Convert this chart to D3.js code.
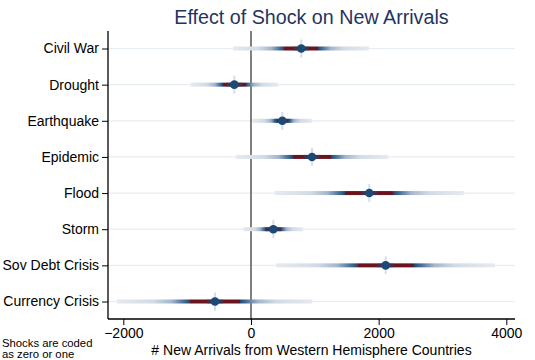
<!DOCTYPE html>
<html>
<head>
<meta charset="utf-8">
<script src="https://cdn.jsdelivr.net/npm/d3@7"></script>
<style>
  html, body { margin: 0; padding: 0; background: #fff; }
  svg { display: block; font-family: "Liberation Sans", Arial, Helvetica, sans-serif; }
</style>
</head>
<body>
<svg id="chart" width="535" height="360"></svg>
<script>
// ---- data ----
const categories = ["Civil War", "Drought", "Earthquake", "Epidemic", "Flood", "Storm", "Sov Debt Crisis", "Currency Crisis"];
const estimates  = [788, -261, 491, 956, 1853, 350, 2110, -564];
const outerLow   = [-282, -945, 21, -240, 376, -120, 397, -2104];
const outerHigh  = [1849, 428, 961, 2151, 3342, 819, 3823, 961];
const innerLow   = [517, -443, 400, 653, 1477, 230, 1671, -956];
const innerHigh  = [1050, -78, 585, 1253, 2229, 470, 2554, -172];
const xTicks     = [-2000, 0, 2000, 4000];

(function () {
const svg = d3.select("#chart");
const pL = 108, pR = 515, pT = 31, pB = 319;

const x = d3.scaleLinear().domain([-2240, 4136]).range([pL, pR]);
const y = d3.scalePoint().domain(categories).range([48.5, 301.5]);

const defs = svg.append("defs");

// gridlines
svg.append("g").selectAll("line").data(categories).join("line")
  .attr("x1", pL).attr("x2", pR)
  .attr("y1", d => y(d)).attr("y2", d => y(d))
  .attr("stroke", "#e6edf2").attr("stroke-width", 1.2);

// zero line
svg.append("line")
  .attr("x1", x(0)).attr("x2", x(0)).attr("y1", pT).attr("y2", pB)
  .attr("stroke", "#555").attr("stroke-width", 1.5);

// gradient per row
categories.forEach((c, i) => {
  const lo = outerLow[i], hi = outerHigh[i];
  const f = v => (v - lo) / (hi - lo);
  const a = f(innerLow[i]), b = f(innerHigh[i]);
  const r = 1 - b;
  const g = defs.append("linearGradient").attr("id", "g" + i)
    .attr("x1", 0).attr("x2", 1).attr("y1", 0).attr("y2", 0);
  const stops = [
    [0, "#e6eaef"], [a * 0.5, "#d2dbe5"], [a * 0.75, "#a3b6cb"], [a * 0.9, "#4f749b"], [a, "#1c4b77"],
    [a, "#6a1420"], [b, "#6a1420"],
    [b, "#1c4b77"], [b + r * 0.1, "#4f749b"], [b + r * 0.25, "#a3b6cb"], [b + r * 0.5, "#d2dbe5"], [1, "#e6eaef"]
  ];
  stops.forEach(s => g.append("stop").attr("offset", s[0]).attr("stop-color", s[1]));
});

const rows = svg.append("g").selectAll("g").data(categories).join("g");

// CI band
rows.append("rect")
  .attr("x", (d, i) => x(outerLow[i]))
  .attr("width", (d, i) => x(outerHigh[i]) - x(outerLow[i]))
  .attr("y", d => y(d) - 2).attr("height", 4)
  .attr("fill", (d, i) => `url(#g${i})`);

// glow behind marker
rows.append("line")
  .attr("x1", (d, i) => x(estimates[i])).attr("x2", (d, i) => x(estimates[i]))
  .attr("y1", d => y(d) - 9).attr("y2", d => y(d) + 9)
  .attr("stroke", "#d5dfe9").attr("stroke-width", 2);
rows.append("line")
  .attr("x1", (d, i) => x(estimates[i]) - 8).attr("x2", (d, i) => x(estimates[i]) + 8)
  .attr("y1", d => y(d)).attr("y2", d => y(d))
  .attr("stroke", "#1c4b77").attr("stroke-width", 4).attr("opacity", 0.5);

// markers
rows.append("circle")
  .attr("cx", (d, i) => x(estimates[i])).attr("cy", d => y(d)).attr("r", 4.3)
  .attr("fill", "#1a4a75");

// y axis
const yAxis = svg.append("g").attr("transform", `translate(${pL},0)`)
  .call(d3.axisLeft(y).tickSize(6).tickPadding(3));
yAxis.select(".domain").attr("d", `M0,${pT}V${pB}`).attr("stroke", "#000").attr("stroke-width", 1.3);
yAxis.selectAll(".tick line").attr("stroke", "#000").attr("stroke-width", 1);
yAxis.selectAll(".tick text").attr("font-size", 14).attr("fill", "#000")
  .attr("font-family", "Liberation Sans, Arial, sans-serif");

// x axis
const xAxis = svg.append("g").attr("transform", `translate(0,${pB})`)
  .call(d3.axisBottom(x).tickValues(xTicks).tickSize(6).tickPadding(3).tickFormat(d3.format("d")));
xAxis.select(".domain").attr("d", `M${pL},0H${pR}`).attr("stroke", "#000").attr("stroke-width", 1.3);
xAxis.selectAll(".tick line").attr("stroke", "#000").attr("stroke-width", 1);
xAxis.selectAll(".tick text").attr("font-size", 14).attr("fill", "#000")
  .attr("font-family", "Liberation Sans, Arial, sans-serif");

// title
svg.append("text").attr("x", (pL + pR) / 2).attr("y", 24)
  .attr("text-anchor", "middle").attr("font-size", 19.7).attr("fill", "#1f3560")
  .text("Effect of Shock on New Arrivals");

// x-axis title
svg.append("text").attr("x", (pL + pR) / 2).attr("y", 355)
  .attr("text-anchor", "middle").attr("font-size", 14).attr("fill", "#000")
  .text("# New Arrivals from Western Hemisphere Countries");

// note
svg.append("text").attr("x", 2).attr("y", 347).attr("font-size", 11.3).attr("fill", "#000")
  .text("Shocks are coded");
svg.append("text").attr("x", 2).attr("y", 358).attr("font-size", 11.3).attr("fill", "#000")
  .text("as zero or one");
})();
</script>
</body>
</html>
